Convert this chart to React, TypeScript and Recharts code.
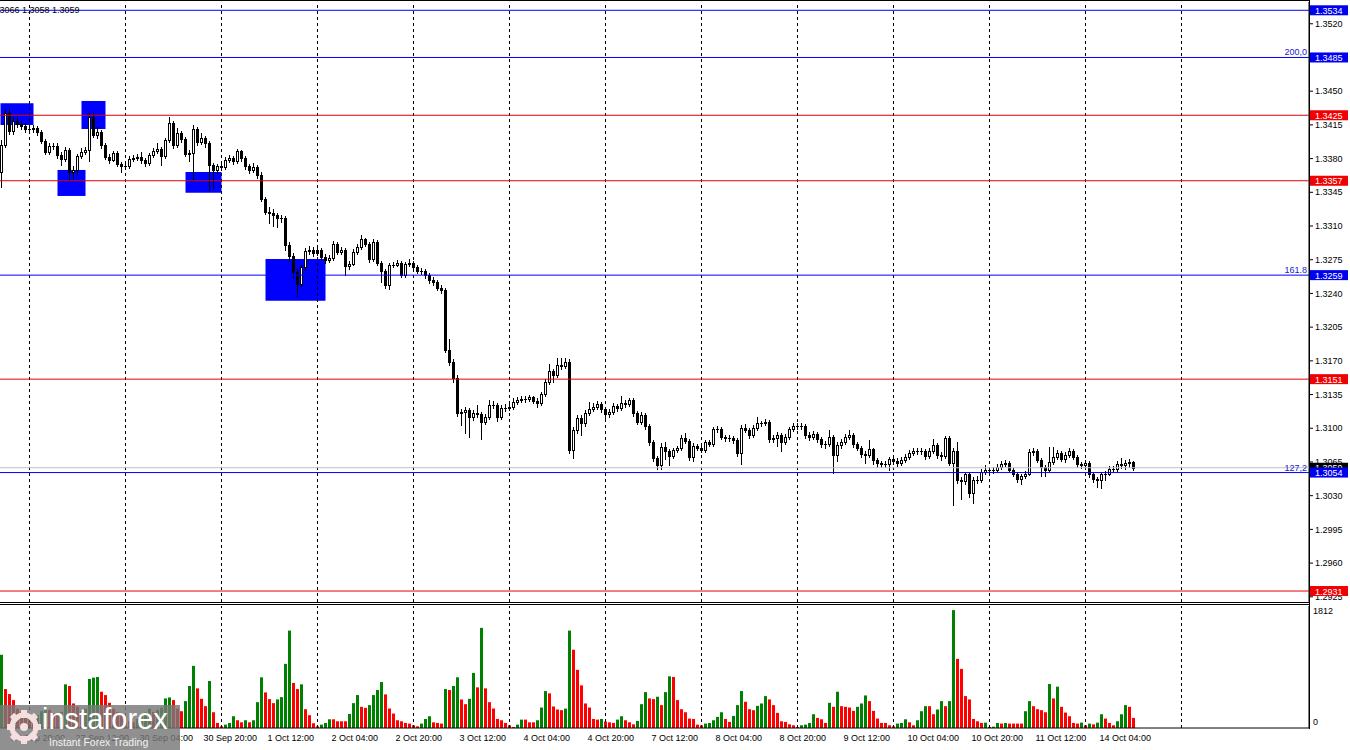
import { ComposedChart, Bar, XAxis, YAxis, ReferenceLine, ReferenceArea } from 'recharts';

// GBPUSD H1, 26 Sep 17:00 .. 14 Oct 12:00 (weekends skipped)
// prices are in pips above 1.3000
const BASE = 1.3;
const PIP = 0.0001;
const firstOpen = 366;

const closes = [
  394, 427, 409, 419, 416, 414, 411, 411, 412, 408, 398, 387, 393, 393, 384, 380, 389, 366, 368, 383,
  387, 389, 423, 405, 408, 394, 382, 379, 386, 374, 372, 372, 380, 381, 382, 379, 375, 384, 388, 390,
  383, 399, 417, 394, 407, 400, 385, 386, 411, 397, 401, 396, 373, 368, 372, 371, 379, 381, 377, 388,
  381, 372, 368, 371, 363, 338, 325, 324, 321, 318, 318, 290, 279, 262, 250, 267, 284, 285, 282, 285,
  278, 275, 277, 291, 283, 285, 268, 271, 283, 288, 296, 291, 276, 293, 272, 263, 249, 270, 270, 272,
  259, 271, 272, 267, 263, 263, 259, 254, 252, 246, 244, 181, 169, 152, 116, 117, 119, 112, 116, 115,
  106, 112, 124, 124, 112, 121, 121, 122, 127, 129, 130, 130, 132, 128, 126, 136, 148, 159, 155, 166,
  165, 169, 77, 98, 111, 105, 116, 120, 122, 125, 120, 115, 117, 123, 121, 126, 125, 129, 116, 107,
  114, 102, 86, 69, 62, 81, 76, 71, 77, 79, 90, 87, 70, 82, 80, 77, 86, 84, 99, 99,
  91, 90, 90, 88, 74, 100, 98, 93, 100, 105, 105, 107, 89, 90, 93, 86, 91, 99, 102, 102,
  102, 93, 91, 94, 89, 84, 84, 91, 72, 83, 86, 91, 93, 84, 80, 73, 72, 78, 67, 64,
  63, 63, 68, 66, 64, 67, 70, 74, 76, 76, 76, 71, 76, 83, 72, 71, 90, 64, 76, 46,
  45, 52, 33, 46, 46, 55, 57, 57, 57, 60, 63, 64, 57, 53, 47, 50, 53, 75, 76, 67,
  60, 57, 65, 70, 74, 68, 72, 76, 70, 63, 62, 64, 52, 47, 46, 52, 53, 58, 58, 63,
  62, 64, 65, 59,
];

const highs = [
  399, 430, 431, 423, 423, 419, 417, 414, 415, 414, 410, 400, 396, 396, 396, 387, 392, 391, 372, 385,
  391, 392, 427, 428, 413, 410, 396, 385, 388, 388, 376, 375, 383, 384, 385, 387, 381, 386, 391, 396,
  392, 401, 423, 419, 412, 409, 402, 389, 415, 413, 407, 403, 398, 375, 374, 374, 382, 384, 383, 390,
  389, 383, 374, 375, 373, 366, 340, 330, 328, 324, 321, 320, 293, 282, 266, 270, 287, 289, 288, 288,
  287, 281, 280, 294, 293, 288, 287, 274, 286, 291, 301, 298, 293, 296, 295, 274, 265, 272, 273, 275,
  274, 273, 276, 274, 270, 266, 265, 261, 257, 254, 249, 246, 193, 172, 155, 120, 122, 121, 119, 124,
  117, 115, 129, 128, 126, 124, 125, 126, 131, 132, 133, 133, 135, 134, 131, 138, 151, 167, 162, 173,
  173, 173, 172, 101, 114, 114, 119, 127, 126, 128, 127, 122, 120, 126, 125, 134, 129, 131, 131, 118,
  117, 116, 104, 88, 71, 85, 86, 78, 80, 82, 93, 95, 89, 85, 84, 82, 88, 88, 101, 102,
  101, 93, 93, 92, 90, 103, 104, 100, 103, 112, 108, 110, 109, 93, 96, 95, 94, 101, 105, 105,
  105, 104, 96, 97, 96, 91, 87, 98, 93, 86, 89, 94, 98, 95, 86, 82, 76, 88, 80, 69,
  66, 66, 70, 70, 69, 70, 73, 77, 79, 79, 79, 78, 80, 89, 85, 75, 92, 92, 80, 86,
  49, 55, 55, 49, 50, 58, 62, 60, 60, 63, 66, 67, 66, 59, 55, 53, 56, 78, 79, 78,
  69, 62, 81, 81, 77, 76, 75, 79, 78, 72, 65, 67, 66, 54, 49, 55, 56, 61, 61, 66,
  69, 67, 68, 66,
];

const lows = [
  350, 392, 406, 406, 413, 411, 408, 408, 408, 405, 396, 385, 385, 390, 381, 373, 378, 359, 360, 364,
  381, 385, 378, 402, 401, 391, 380, 375, 377, 372, 366, 369, 370, 378, 379, 375, 372, 373, 382, 386,
  373, 381, 397, 391, 392, 397, 383, 377, 358, 394, 395, 392, 347, 349, 365, 368, 369, 376, 374, 375,
  378, 369, 365, 366, 360, 336, 322, 313, 310, 309, 314, 285, 274, 256, 237, 248, 264, 281, 279, 280,
  276, 272, 273, 275, 281, 281, 259, 265, 269, 281, 286, 289, 273, 274, 270, 252, 246, 245, 267, 268,
  257, 257, 268, 265, 261, 260, 256, 251, 249, 244, 240, 179, 166, 148, 113, 103, 95, 91, 109, 112,
  89, 104, 110, 121, 108, 110, 118, 119, 120, 125, 127, 127, 128, 126, 122, 124, 134, 146, 148, 153,
  162, 163, 74, 69, 95, 93, 102, 114, 118, 120, 117, 109, 112, 115, 118, 119, 122, 123, 113, 104,
  104, 99, 83, 66, 58, 58, 68, 62, 69, 75, 77, 85, 67, 66, 77, 75, 75, 82, 82, 96,
  89, 87, 87, 85, 71, 63, 96, 90, 91, 98, 102, 103, 86, 86, 82, 76, 84, 89, 97, 99,
  99, 90, 88, 89, 86, 81, 80, 82, 54, 66, 80, 84, 89, 81, 77, 70, 64, 70, 63, 60,
  60, 60, 57, 63, 61, 62, 65, 68, 72, 73, 73, 68, 69, 74, 69, 67, 69, 62, 20, 43,
  27, 42, 29, 22, 43, 44, 53, 54, 54, 55, 58, 61, 55, 50, 44, 42, 48, 51, 72, 65,
  50, 50, 55, 63, 68, 66, 65, 70, 68, 60, 59, 60, 49, 44, 39, 38, 46, 51, 55, 56,
  59, 58, 60, 57,
];

const volumes = [
  1134, 603, 525, 432, 300, 250, 220, 180, 150, 200, 260, 320, 280, 230, 210, 250, 676, 650, 380, 328,
  260, 300, 759, 780, 790, 562, 510, 390, 300, 250, 200, 150, 110, 90, 140, 190, 240, 300, 250, 280,
  317, 458, 473, 432, 302, 260, 416, 650, 962, 614, 452, 338, 728, 244, 78, 26, 52, 78, 182, 120,
  88, 120, 88, 120, 400, 785, 551, 447, 385, 442, 478, 993, 1508, 697, 603, 676, 291, 198, 73, 26,
  52, 78, 135, 135, 104, 104, 104, 218, 385, 510, 328, 312, 354, 510, 588, 712, 520, 302, 224, 120,
  104, 78, 68, 42, 26, 68, 140, 182, 88, 78, 68, 603, 588, 650, 785, 442, 369, 452, 853, 629,
  1550, 614, 400, 302, 140, 120, 78, 42, 16, 52, 130, 130, 88, 88, 120, 317, 572, 536, 333, 286,
  276, 300, 1508, 1212, 900, 660, 380, 317, 140, 130, 140, 99, 88, 78, 130, 182, 120, 88, 57, 109,
  369, 556, 458, 447, 484, 354, 556, 800, 790, 432, 291, 244, 146, 140, 52, 42, 68, 78, 120, 172,
  244, 140, 94, 187, 354, 572, 406, 291, 276, 343, 380, 494, 442, 354, 234, 104, 94, 57, 42, 16,
  42, 52, 78, 213, 156, 135, 78, 390, 328, 562, 338, 328, 317, 265, 328, 380, 504, 416, 265, 146,
  78, 78, 42, 26, 68, 78, 135, 88, 42, 120, 260, 338, 338, 213, 286, 416, 338, 416, 1825, 1071,
  915, 494, 442, 140, 104, 78, 83, 16, 21, 78, 68, 78, 68, 68, 68, 68, 260, 416, 338, 291,
  276, 244, 681, 458, 640, 328, 239, 182, 78, 68, 83, 42, 68, 57, 83, 213, 146, 78, 42, 104,
  213, 354, 328, 156,
];

const priceTicks = [
  1.2925, 1.296, 1.2995, 1.303, 1.3065, 1.31, 1.3135, 1.317, 1.3205, 1.324, 1.3275, 1.331, 1.3345,
  1.338, 1.3415, 1.345, 1.3485, 1.352,
];
const volumeTicks = [0, 1812];

const timeLabelIdx = [3, 19, 35, 51, 67, 83, 99, 115, 131, 147, 163, 179, 195, 211, 227, 243, 259, 275];
const timeLabels = [
  '26 Sep 20:00', '27 Sep 12:00', '30 Sep 04:00', '30 Sep 20:00', '1 Oct 12:00', '2 Oct 04:00',
  '2 Oct 20:00', '3 Oct 12:00', '4 Oct 04:00', '4 Oct 20:00', '7 Oct 12:00', '8 Oct 04:00',
  '8 Oct 20:00', '9 Oct 12:00', '10 Oct 04:00', '10 Oct 20:00', '11 Oct 12:00', '14 Oct 04:00',
];
const dayStarts = [7, 31, 55, 79, 103, 127, 151, 175, 199, 223, 247, 271, 295];

const levelPrices = [1.3534, 1.3485, 1.3425, 1.3357, 1.3259, 1.3151, 1.3054, 1.2931];
const levelKinds = ['blue', 'blue', 'red', 'red', 'blue', 'red', 'blue', 'red'];
const levelNotes = ['', '200,0', '', '', '161.8', '', '127,2', ''];
const bidPrice = 1.3059;

// blue zones: [from candle, to candle, low, high]
const zones = [
  [-0.25, 8, 1.34149, 1.34374],
  [14, 21, 1.33412, 1.33682],
  [20, 26, 1.34107, 1.34398],
  [46, 55, 1.33446, 1.33661],
  [66, 81, 1.32324, 1.32758],
];

const X_DOMAIN = [-0.375, 326.875];
const PRICE_DOMAIN = [1.29196, 1.35426];
const VOL_DOMAIN = [0, 1889];
const FONT = '"Liberation Sans", Arial, sans-serif';
const BLUE_LINE = '#0000ff';
const RED_LINE = '#e00000';

const candles = closes.map((c, i) => {
  const open = BASE + (i === 0 ? firstOpen : closes[i - 1]) * PIP;
  const close = BASE + c * PIP;
  const high = Math.max(BASE + highs[i] * PIP, open, close);
  const low = Math.min(BASE + lows[i] * PIP, open, close);
  return { i, open, close, high, low, range: [low, high] };
});

const volumeData = volumes.map((v, i) => ({ i, vol: v, rising: i === 0 || v > volumes[i - 1] }));

function Candle(props: any) {
  const { x, y, width, height, payload } = props;
  if (x == null || y == null || !payload) return null;
  const top = Math.min(y, y + height);
  const h = Math.abs(height);
  const { open, close, high, low } = payload;
  const toY = (p: number) => top + ((high - p) / (high - low)) * h;
  const px = Math.floor(x + width / 2);
  const bTop = Math.round(toY(Math.max(open, close)));
  const bBot = Math.round(toY(Math.min(open, close)));
  const bull = close > open;
  return (
    <g>
      <line x1={px + 0.5} x2={px + 0.5} y1={Math.round(top)} y2={Math.round(top + h) + 1} stroke="#000" />
      {bBot - bTop < 1 ? (
        <line x1={px - 1} x2={px + 2} y1={bTop + 0.5} y2={bTop + 0.5} stroke="#000" />
      ) : (
        <rect x={px - 0.5} y={bTop + 0.5} width={2} height={bBot - bTop} fill={bull ? '#fff' : '#000'} stroke="#000" />
      )}
    </g>
  );
}

function VolumeBar(props: any) {
  const { x, y, width, height, payload } = props;
  if (x == null || !payload) return null;
  const px = Math.floor(x + width / 2);
  return <rect x={px - 1} y={y} width={3} height={height} fill={payload.rising ? '#008000' : '#ff0000'} />;
}

function LevelTag(props: any) {
  const { viewBox, text, fill, note } = props;
  if (!viewBox) return null;
  const right = viewBox.x + viewBox.width;
  const y = viewBox.y;
  return (
    <g>
      {note ? (
        <text x={right - 2} y={y - 2} textAnchor="end" fontSize={9} fontFamily={FONT} fill="#2020d0">
          {note}
        </text>
      ) : null}
      <rect x={right + 1} y={y - 5} width={38} height={10} fill={fill} />
      <text x={right + 6} y={y + 3.5} fontSize={9} fontFamily={FONT} fill="#fff">
        {text}
      </text>
    </g>
  );
}

function TimeTick(props: any) {
  const { x, y, payload } = props;
  const k = timeLabelIdx.indexOf(payload.value);
  if (k < 0) return null;
  return (
    <text x={x - 2} y={y + 13} fontSize={9} fontFamily={FONT} fill="#000">
      {timeLabels[k]}
    </text>
  );
}

function VolTick(props: any) {
  const { x, y, payload } = props;
  return (
    <text x={x} y={y + (payload.value === 0 ? -3 : 3.5)} fontSize={9} fontFamily={FONT} fill="#000">
      {payload.value}
    </text>
  );
}

function Gear() {
  const teeth = [0, 45, 90, 135, 180, 225, 270, 315];
  return (
    <svg width={38} height={40} style={{ position: 'absolute', left: 5, top: 2 }}>
      <g transform="translate(19,20)" fill="#f4dede">
        {teeth.map((a) => (
          <rect key={a} x={-3} y={-17} width={6} height={8} transform={`rotate(${a})`} />
        ))}
        <circle r={12} fill="none" stroke="#f4dede" strokeWidth={5} />
        <circle r={4} />
      </g>
    </svg>
  );
}

export default function App() {
  return (
    <div style={{ position: 'relative', width: 1350, height: 750, overflow: 'hidden', background: '#fff' }}>
      <style>{'body{margin:0}'}</style>

      {/* price window: grid, zones, candles, axis */}
      <div style={{ position: 'absolute', left: 0, top: 0 }}>
        <ComposedChart width={1350} height={604} data={candles} margin={{ top: 2, right: 0, left: 0, bottom: 2 }}>
          <XAxis dataKey="i" type="number" domain={X_DOMAIN} allowDataOverflow hide />
          <YAxis
            orientation="right"
            width={41}
            domain={PRICE_DOMAIN}
            allowDataOverflow
            ticks={priceTicks}
            interval={0}
            tickSize={4}
            tickMargin={2}
            tickLine={{ stroke: '#000' }}
            axisLine={{ stroke: '#000' }}
            tick={{ fontSize: 9, fill: '#000', fontFamily: FONT }}
            tickFormatter={(v: number) => v.toFixed(4)}
          />
          {dayStarts.map((d) => (
            <ReferenceLine key={'d' + d} x={d} stroke="#000" strokeDasharray="3 3" />
          ))}
          {zones.map((z, k) => (
            <ReferenceArea key={'z' + k} x1={z[0]} x2={z[1]} y1={z[2]} y2={z[3]} fill="#0000ff" fillOpacity={1} stroke="none" ifOverflow="visible" />
          ))}
          <Bar dataKey="range" barSize={3} shape={<Candle />} isAnimationActive={false} />
        </ComposedChart>
      </div>

      {/* level lines and their price tags, drawn above the axis labels */}
      <div style={{ position: 'absolute', left: 0, top: 0 }}>
        <ComposedChart width={1350} height={604} data={candles} margin={{ top: 2, right: 41, left: 0, bottom: 2 }}>
          <XAxis dataKey="i" type="number" domain={X_DOMAIN} allowDataOverflow hide />
          <YAxis domain={PRICE_DOMAIN} allowDataOverflow hide />
          <ReferenceLine y={bidPrice} stroke="#c0c0c0" label={<LevelTag text={bidPrice.toFixed(4)} fill="#000" />} />
          {levelPrices.map((p, k) => (
            <ReferenceLine
              key={'l' + k}
              y={p}
              stroke={levelKinds[k] === 'blue' ? BLUE_LINE : RED_LINE}
              label={
                <LevelTag
                  text={p.toFixed(4)}
                  note={levelNotes[k]}
                  fill={levelKinds[k] === 'blue' ? '#0000f0' : '#f00000'}
                />
              }
            />
          ))}
        </ComposedChart>
      </div>

      {/* volume window */}
      <div style={{ position: 'absolute', left: 0, top: 603 }}>
        <ComposedChart width={1350} height={147} data={volumeData} margin={{ top: 3, right: 0, left: 0, bottom: 0 }}>
          <XAxis
            dataKey="i"
            type="number"
            domain={X_DOMAIN}
            allowDataOverflow
            ticks={timeLabelIdx}
            interval={0}
            height={22}
            tickSize={0}
            tickMargin={0}
            tickLine={false}
            axisLine={{ stroke: '#000' }}
            tick={<TimeTick />}
          />
          <YAxis
            orientation="right"
            width={41}
            domain={VOL_DOMAIN}
            allowDataOverflow
            ticks={volumeTicks}
            interval={0}
            tickSize={0}
            tickMargin={4}
            tickLine={false}
            axisLine={{ stroke: '#000' }}
            tick={<VolTick />}
          />
          {dayStarts.map((d) => (
            <ReferenceLine key={'v' + d} x={d} stroke="#000" strokeDasharray="3 3" />
          ))}
          <Bar dataKey="vol" barSize={3} shape={<VolumeBar />} isAnimationActive={false} />
        </ComposedChart>
      </div>

      {/* window frames */}
      <div style={{ position: 'absolute', left: 0, top: 0, width: 1309, height: 1, background: '#000' }} />
      <div style={{ position: 'absolute', left: 0, top: 602, width: 1310, height: 1, background: '#000' }} />
      <div style={{ position: 'absolute', left: 0, top: 604, width: 1310, height: 1, background: '#000' }} />
      <div style={{ position: 'absolute', left: 1309, top: 0, width: 1, height: 729, background: '#000' }} />

      <div
        style={{ position: 'absolute', left: -8, top: 5, fontSize: 9, fontFamily: FONT, color: '#000', whiteSpace: 'nowrap' }}
      >
        1.3066 1.3058 1.3059
      </div>

      <div
        style={{
          position: 'absolute',
          left: 0,
          top: 705,
          width: 180,
          height: 45,
          background: 'rgba(120,120,120,0.82)',
          fontFamily: FONT,
        }}
      >
        <Gear />
        <div style={{ position: 'absolute', left: 42, top: 0, fontSize: 29, lineHeight: '28px', color: '#fff' }}>
          instaforex
        </div>
        <div style={{ position: 'absolute', left: 49, top: 31, fontSize: 10.5, lineHeight: '12px', color: '#f0f0f0' }}>
          Instant Forex Trading
        </div>
      </div>
    </div>
  );
}
